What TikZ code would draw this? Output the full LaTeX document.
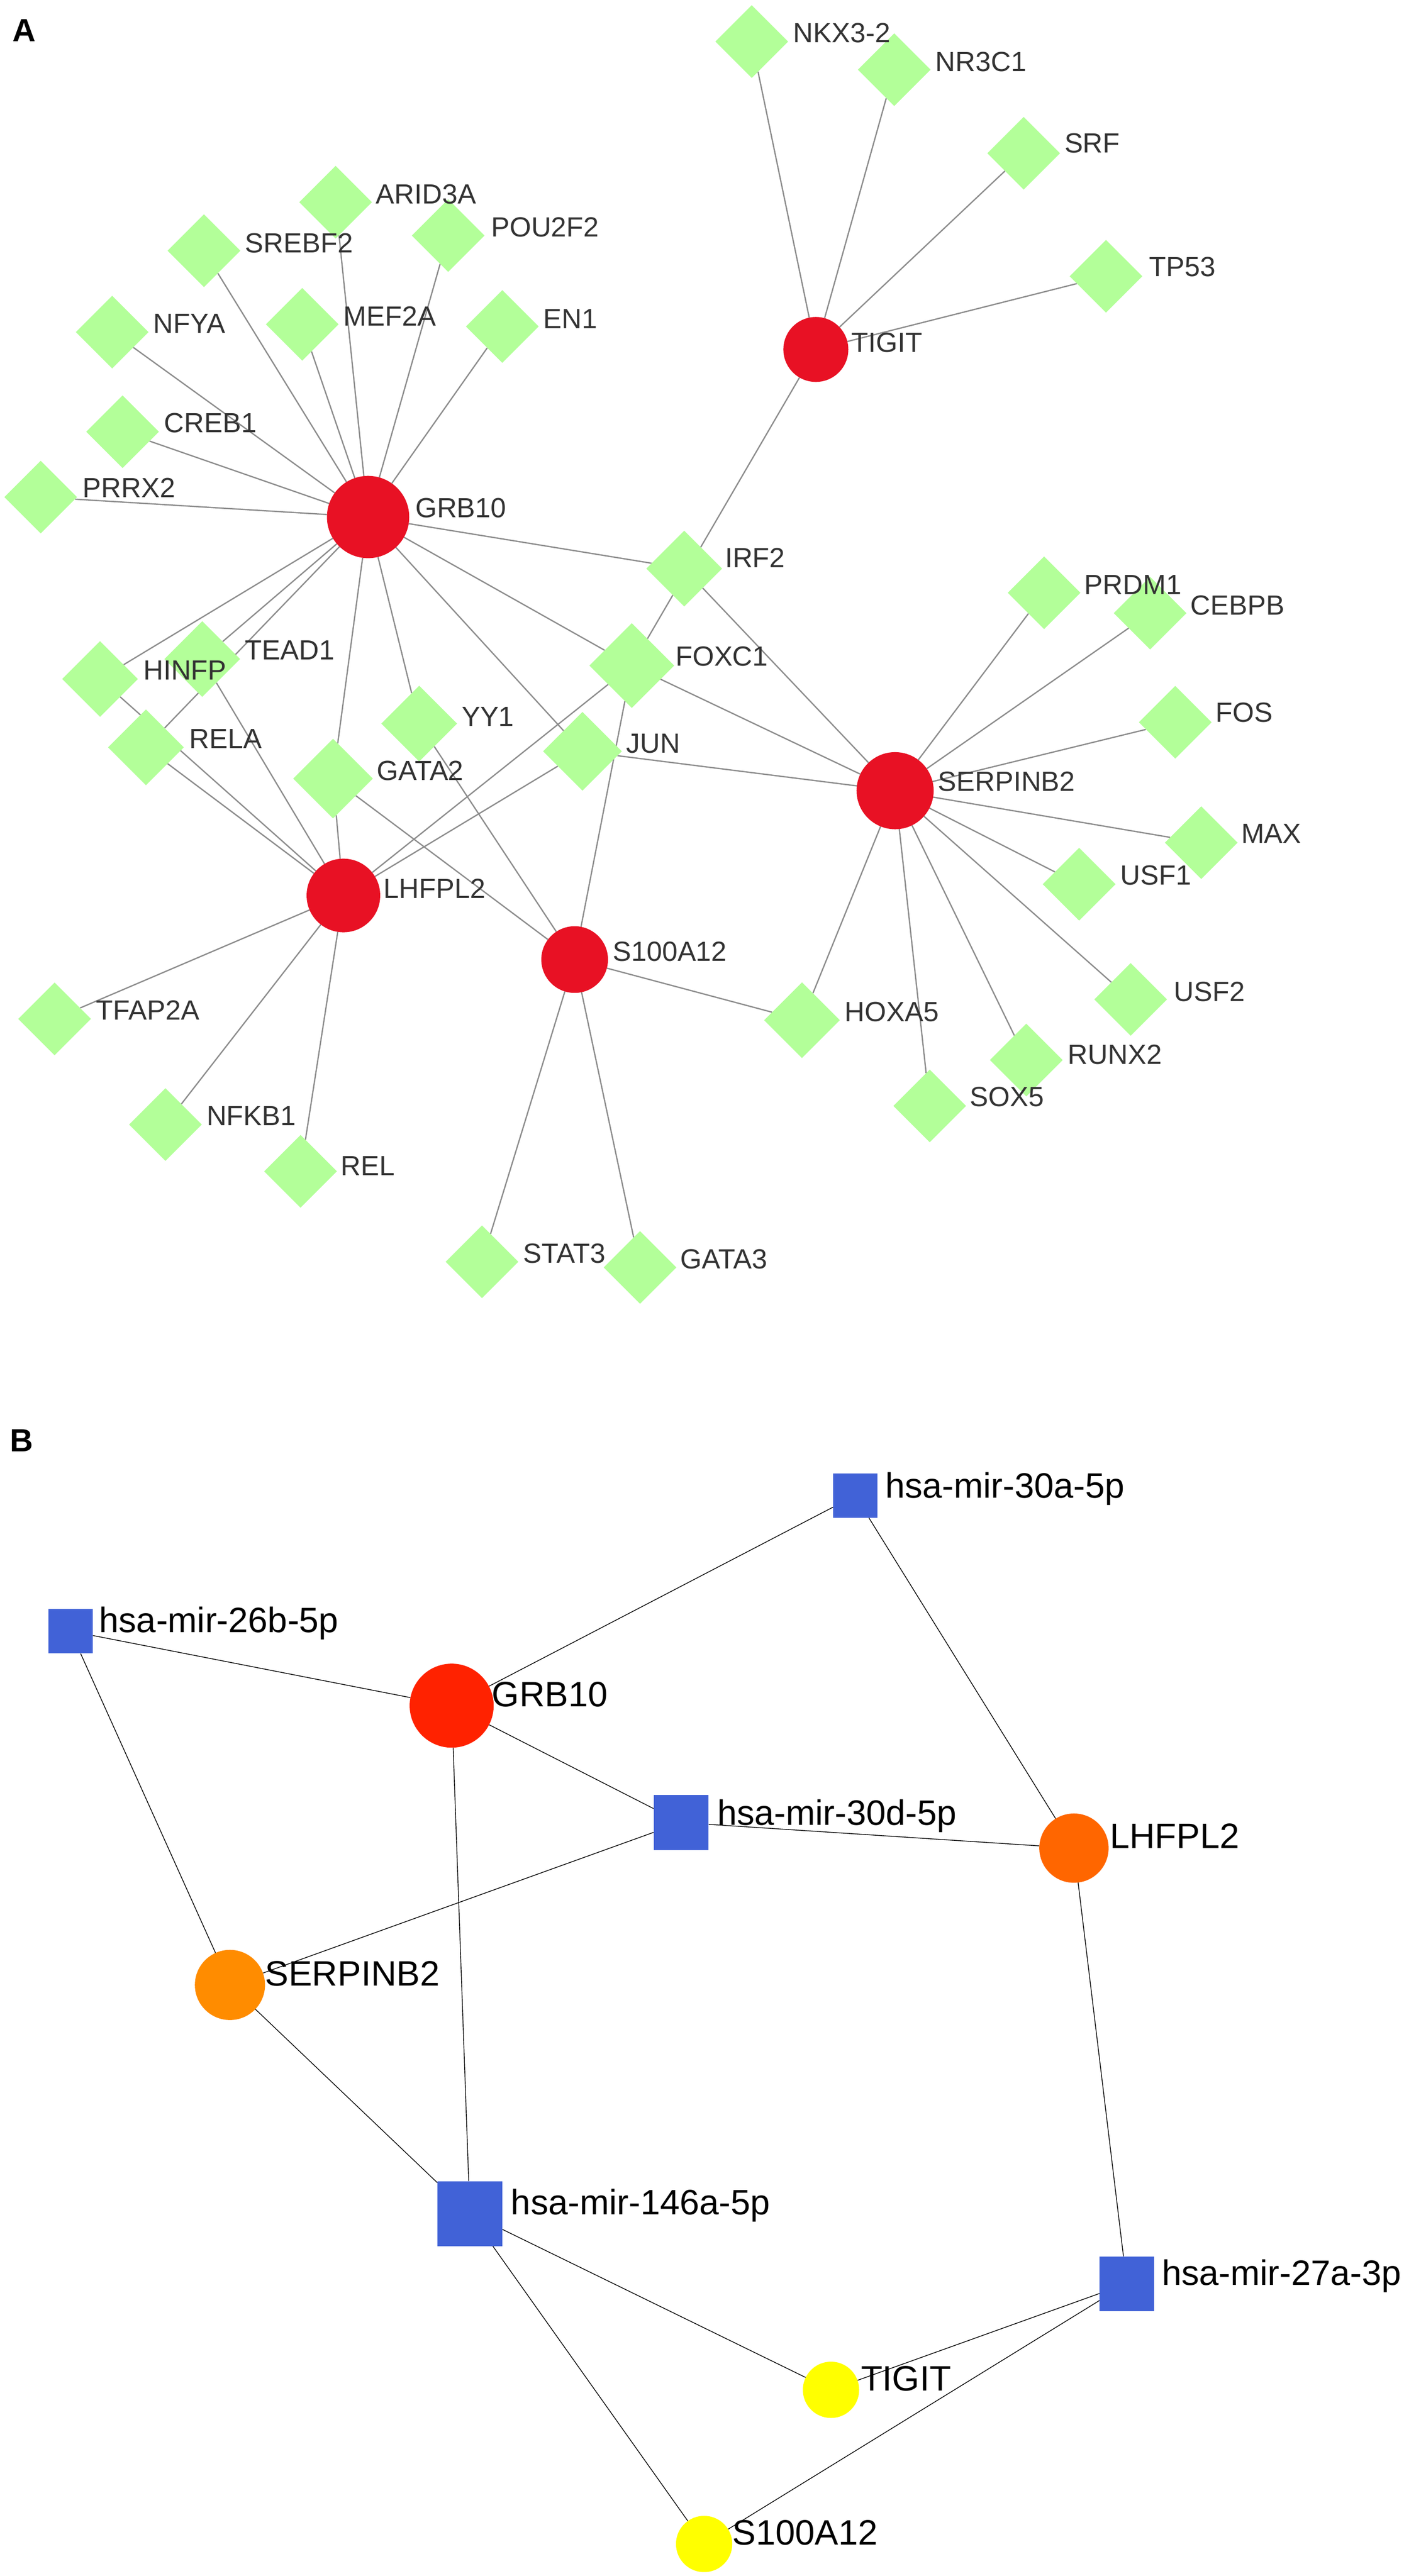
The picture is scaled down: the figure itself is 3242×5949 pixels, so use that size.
\documentclass[tikz,border=0pt]{standalone}
\usepackage{fontspec}
\setmainfont{Liberation Sans}
\usetikzlibrary{shapes.geometric}
\pgfdeclarelayer{bg}
\pgfsetlayers{bg,main}
\definecolor{genered}{RGB}{232,17,36}
\definecolor{tfgreen}{RGB}{179,255,153}
\definecolor{edgegray}{RGB}{140,140,140}
\definecolor{txtgray}{RGB}{51,51,51}
\definecolor{mirblue}{RGB}{65,98,215}
\definecolor{bred}{RGB}{255,34,0}
\definecolor{borange}{RGB}{255,102,0}
\definecolor{blight}{RGB}{255,140,0}
\definecolor{byellow}{RGB}{255,255,0}
\tikzset{
  gene/.style={circle,fill=genered,draw=none,inner sep=0pt,minimum size=#1},
  tf/.style={diamond,aspect=1,fill=tfgreen,draw=none,inner sep=0pt,minimum width=#1,minimum height=#1},
  tf/.default=168pt,
  bgene/.style={circle,draw=none,inner sep=0pt},
  mir/.style={rectangle,fill=mirblue,draw=none,inner sep=0pt,minimum size=#1},
  lblA/.style={anchor=base west,inner sep=0pt,text=txtgray,font=\fontsize{64}{64}\selectfont},
  lblB/.style={anchor=base west,inner sep=0pt,text=black,font=\fontsize{81.5}{82}\selectfont},
  panel/.style={anchor=base west,inner sep=0pt,font=\fontsize{74}{74}\selectfont\bfseries},
  edgeA/.style={draw=edgegray,line width=3pt},
  edgeB/.style={draw=black,line width=1.7pt}
}
\begin{document}
\begin{tikzpicture}[x=1pt,y=-1pt]
\useasboundingbox (0,0) rectangle (3242,5949);
\begin{pgfonlayer}{bg}
\fill[white] (0,0) rectangle (3242,5949);
\end{pgfonlayer}
% ---------------- Panel A ----------------
\node[panel] (pA) at (29,96) {A};
% genes
\node[gene=190pt] (aGRB10) at (850,1194) {};
\node[gene=150pt] (aTIGIT) at (1884,807) {};
\node[gene=170pt] (aLHFPL2) at (793,2068) {};
\node[gene=154pt] (aS100A12) at (1327,2216) {};
\node[gene=178pt] (aSERPINB2) at (2067,1826) {};
% TFs
\node[tf] (ARID3A) at (775,467) {};
\node[tf] (SREBF2) at (471,579) {};
\node[tf] (POU2F2) at (1035,544) {};
\node[tf] (NFYA) at (259,767) {};
\node[tf] (MEF2A) at (698,749) {};
\node[tf] (EN1) at (1160,754) {};
\node[tf] (CREB1) at (283,997) {};
\node[tf] (PRRX2) at (94,1148) {};
\node[tf=175pt] (IRF2) at (1580,1313) {};
\node[tf] (NKX32) at (1736,96) {};
\node[tf] (NR3C1) at (2065,161) {};
\node[tf] (SRF) at (2364,354) {};
\node[tf] (TP53) at (2554,638) {};
\node[tf] (PRDM1) at (2411,1369) {};
\node[tf] (CEBPB) at (2656,1416) {};
\node[tf=175pt] (HINFP) at (231,1568) {};
\node[tf=175pt] (TEAD1) at (467,1522) {};
\node[tf=175pt] (RELA) at (337,1726) {};
\node[tf=175pt] (YY1) at (968,1671) {};
\node[tf=184pt] (GATA2) at (769,1798) {};
\node[tf=196pt] (FOXC1) at (1459,1537) {};
\node[tf=182pt] (JUN) at (1345,1735) {};
\node[tf] (TFAP2A) at (126,2353) {};
\node[tf] (NFKB1) at (382,2597) {};
\node[tf] (REL) at (694,2705) {};
\node[tf] (FOS) at (2714,1668) {};
\node[tf] (MAX) at (2774,1946) {};
\node[tf] (USF1) at (2492,2042) {};
\node[tf] (USF2) at (2611,2308) {};
\node[tf=175pt] (HOXA5) at (1852,2356) {};
\node[tf] (RUNX2) at (2370,2448) {};
\node[tf] (SOX5) at (2147,2554) {};
\node[tf] (STAT3) at (1113,2914) {};
\node[tf] (GATA3) at (1478,2927) {};
% edges A
\begin{pgfonlayer}{bg}
\foreach \t in {ARID3A,SREBF2,POU2F2,NFYA,MEF2A,EN1,CREB1,PRRX2,IRF2,HINFP,TEAD1,RELA,GATA2,YY1,JUN,FOXC1}
  \draw[edgeA] (aGRB10) -- (\t);
\foreach \t in {NKX32,NR3C1,SRF,TP53,FOXC1}
  \draw[edgeA] (aTIGIT) -- (\t);
\foreach \t in {HINFP,RELA,TEAD1,GATA2,FOXC1,JUN,TFAP2A,NFKB1,REL}
  \draw[edgeA] (aLHFPL2) -- (\t);
\foreach \t in {GATA2,YY1,FOXC1,HOXA5,STAT3,GATA3}
  \draw[edgeA] (aS100A12) -- (\t);
\foreach \t in {IRF2,FOXC1,JUN,PRDM1,CEBPB,FOS,MAX,USF1,USF2,RUNX2,SOX5,HOXA5}
  \draw[edgeA] (aSERPINB2) -- (\t);
\end{pgfonlayer}
% labels A
\node[lblA] (lGRB10) at (959,1195) {GRB10};
\node[lblA] (lTIGIT) at (1966,813) {TIGIT};
\node[lblA] (lLHFPL2) at (886,2074) {LHFPL2};
\node[lblA] (lS100A12) at (1415,2220) {S100A12};
\node[lblA] (lSERPINB2) at (2166,1827) {SERPINB2};
\node[lblA] (lARID3A) at (868,471) {ARID3A};
\node[lblA] (lSREBF2) at (566,583) {SREBF2};
\node[lblA] (lPOU2F2) at (1134,547) {POU2F2};
\node[lblA] (lNFYA) at (354,769) {NFYA};
\node[lblA] (lMEF2A) at (793,753) {MEF2A};
\node[lblA] (lEN1) at (1255,758) {EN1};
\node[lblA] (lCREB1) at (379,999) {CREB1};
\node[lblA] (lPRRX2) at (191,1149) {PRRX2};
\node[lblA] (lIRF2) at (1674,1310) {IRF2};
\node[lblA] (lNKX32) at (1832,98) {NKX3-2};
\node[lblA] (lNR3C1) at (2160,165) {NR3C1};
\node[lblA] (lSRF) at (2458,353) {SRF};
\node[lblA] (lTP53) at (2654,638) {TP53};
\node[lblA] (lPRDM1) at (2504,1372) {PRDM1};
\node[lblA] (lCEBPB) at (2749,1420) {CEBPB};
\node[lblA] (lHINFP) at (331,1570) {HINFP};
\node[lblA] (lTEAD1) at (566,1524) {TEAD1};
\node[lblA] (lRELA) at (437,1728) {RELA};
\node[lblA] (lYY1) at (1066,1677) {YY1};
\node[lblA] (lGATA2) at (870,1802) {GATA2};
\node[lblA] (lFOXC1) at (1560,1538) {FOXC1};
\node[lblA] (lJUN) at (1446,1739) {JUN};
\node[lblA] (lTFAP2A) at (222,2355) {TFAP2A};
\node[lblA] (lNFKB1) at (477,2599) {NFKB1};
\node[lblA] (lREL) at (787,2714) {REL};
\node[lblA] (lFOS) at (2807,1668) {FOS};
\node[lblA] (lMAX) at (2866,1947) {MAX};
\node[lblA] (lUSF1) at (2587,2043) {USF1};
\node[lblA] (lUSF2) at (2711,2312) {USF2};
\node[lblA] (lHOXA5) at (1951,2359) {HOXA5};
\node[lblA] (lRUNX2) at (2466,2457) {RUNX2};
\node[lblA] (lSOX5) at (2240,2555) {SOX5};
\node[lblA] (lSTAT3) at (1208,2917) {STAT3};
\node[lblA] (lGATA3) at (1571,2930) {GATA3};
% ---------------- Panel B ----------------
\node[panel] (pB) at (23,3352) {B};
\node[mir=103pt] (m26b) at (163,3767) {};
\node[mir=102pt] (m30a) at (1975,3454) {};
\node[mir=127pt] (m30d) at (1573,4209) {};
\node[mir=150pt] (m146a) at (1085,5112) {};
\node[mir=126pt] (m27a) at (2602,5274) {};
\node[bgene,fill=bred,minimum size=194pt] (bGRB10) at (1043,3939) {};
\node[bgene,fill=borange,minimum size=160pt] (bLHFPL2) at (2480,4268) {};
\node[bgene,fill=blight,minimum size=162pt] (bSERPINB2) at (531,4584) {};
\node[bgene,fill=byellow,minimum size=130pt] (bTIGIT) at (1919,5519) {};
\node[bgene,fill=byellow,minimum size=130pt] (bS100A12) at (1626,5875) {};
\begin{pgfonlayer}{bg}
\draw[edgeB] (m26b) -- (bGRB10);
\draw[edgeB] (m26b) -- (bSERPINB2);
\draw[edgeB] (bGRB10) -- (m30a);
\draw[edgeB] (bGRB10) -- (m30d);
\draw[edgeB] (bGRB10) -- (m146a);
\draw[edgeB] (bSERPINB2) -- (m30d);
\draw[edgeB] (bSERPINB2) -- (m146a);
\draw[edgeB] (m30a) -- (bLHFPL2);
\draw[edgeB] (m30d) -- (bLHFPL2);
\draw[edgeB] (bLHFPL2) -- (m27a);
\draw[edgeB] (m146a) -- (bTIGIT);
\draw[edgeB] (m146a) -- (bS100A12);
\draw[edgeB] (m27a) -- (bTIGIT);
\draw[edgeB] (m27a) -- (bS100A12);
\end{pgfonlayer}
\node[lblB] (l26b) at (229,3770) {hsa-mir-26b-5p};
\node[lblB] (l30a) at (2044,3459) {hsa-mir-30a-5p};
\node[lblB] (l30d) at (1656,4215) {hsa-mir-30d-5p};
\node[lblB] (l146a) at (1180,5114) {hsa-mir-146a-5p};
\node[lblB] (l27a) at (2683,5277) {hsa-mir-27a-3p};
\node[lblB] (lbGRB10) at (1136,3941) {GRB10};
\node[lblB] (lbLHFPL2) at (2563,4268) {LHFPL2};
\node[lblB] (lbSERPINB2) at (612,4586) {SERPINB2};
\node[lblB] (lbTIGIT) at (1988,5521) {TIGIT};
\node[lblB] (lbS100A12) at (1691,5877) {S100A12};
\end{tikzpicture}
\end{document}
